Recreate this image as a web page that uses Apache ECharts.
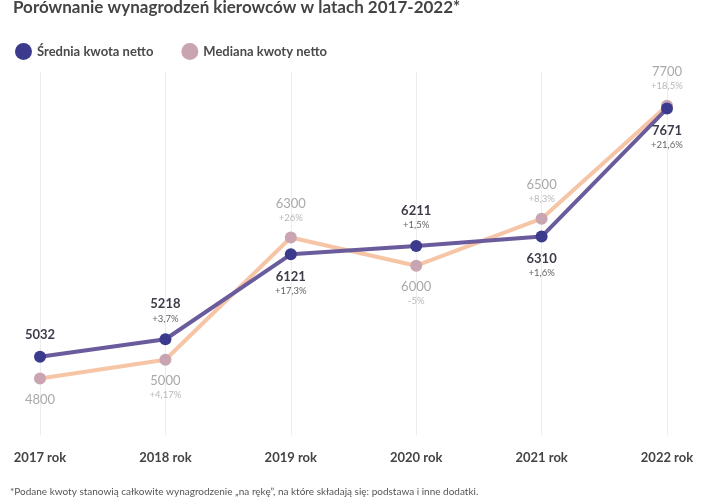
<!DOCTYPE html>
<html>
<head>
<meta charset="utf-8">
<script src="https://cdn.jsdelivr.net/npm/echarts@6/dist/echarts.min.js"></script>
<style>
  html, body { margin: 0; padding: 0; background: #fff; }
  #chart { width: 720px; height: 500px; }
</style>
</head>
<body>
<div id="chart"></div>
<script>
const years = ['2017 rok', '2018 rok', '2019 rok', '2020 rok', '2021 rok', '2022 rok']
const meanValues = [5032, 5218, 6121, 6211, 6310, 7671]
const meanChange = ['', '+3,7%', '+17,3%', '+1,5%', '+1,6%', '+21,6%']
const medianValues = [4800, 5000, 6300, 6000, 6500, 7700]
const medianChange = ['', '+4,17%', '+26%', '-5%', '+8,3%', '+18,5%']

const font = 'Lato, "Noto Sans", sans-serif'

// label goes on the side away from the other line
const buildData = (values, changes, other, richKey) =>
  values.map((v, i) => ({
    value: v,
    label: {
      position: v >= other[i] ? 'top' : 'bottom',
      formatter: changes[i]
        ? `{${richKey}V|${v}}\n{${richKey}P|${changes[i]}}`
        : `{${richKey}V|${v}}`
    }
  }))

const chart = echarts.init(document.getElementById('chart'))

chart.setOption({
  animation: false,
  title: {
    text: 'Porównanie wynagrodzeń kierowców w latach 2017-2022*',
    left: 8,
    top: -6,
    textStyle: { fontFamily: font, fontSize: 17, fontWeight: 'bold', color: '#444' }
  },
  legend: {
    data: ['Średnia kwota netto', 'Mediana kwoty netto'],
    left: 10,
    top: 38,
    icon: 'circle',
    itemWidth: 17,
    itemHeight: 17,
    itemGap: 28,
    textStyle: { fontFamily: font, fontSize: 13, fontWeight: 'bold', color: '#4a4a4a' }
  },
  grid: { left: 40, right: 53, top: 72, bottom: 65 },
  xAxis: {
    type: 'category',
    data: years,
    boundaryGap: false,
    axisLine: { show: false },
    axisTick: { show: false },
    axisLabel: {
      margin: 16,
      fontFamily: font,
      fontSize: 13,
      fontWeight: 'bold',
      color: '#444'
    },
    splitLine: { show: true, lineStyle: { color: '#ededed', width: 1 } }
  },
  yAxis: {
    type: 'value',
    min: 4200,
    max: 8060,
    show: false,
    splitLine: { show: false }
  },
  series: [
    {
      name: 'Mediana kwoty netto',
      type: 'line',
      data: buildData(medianValues, medianChange, meanValues, 'm'),
      symbol: 'circle',
      symbolSize: 12,
      itemStyle: { color: '#c9a5b1' },
      lineStyle: { color: '#f6c5a6', width: 4 },
      label: {
        show: true,
        distance: 7,
        rich: {
          mV: { fontFamily: font, fontSize: 13, color: '#a9a9a9', lineHeight: 16, align: 'center' },
          mP: { fontFamily: font, fontSize: 9.5, color: '#b8b8b8', lineHeight: 13, align: 'center' }
        }
      },
      z: 2
    },
    {
      name: 'Średnia kwota netto',
      type: 'line',
      data: buildData(meanValues, meanChange, medianValues, 's'),
      symbol: 'circle',
      symbolSize: 12,
      itemStyle: { color: '#3b3a8c' },
      lineStyle: { color: '#6a5c9c', width: 4 },
      label: {
        show: true,
        distance: 8,
        rich: {
          sV: { fontFamily: font, fontSize: 13, fontWeight: 'bold', color: '#3d3d4a', lineHeight: 16, align: 'center' },
          sP: { fontFamily: font, fontSize: 9.5, color: '#666', lineHeight: 13, align: 'center' }
        }
      },
      z: 3
    }
  ],
  graphic: [
    {
      type: 'text',
      left: 10,
      top: 487,
      style: {
        text: '*Podane kwoty stanowią całkowite wynagrodzenie „na rękę”, na które składają się: podstawa i inne dodatki.',
        font: '10px ' + font,
        fill: '#555'
      }
    }
  ]
})
</script>
</body>
</html>
